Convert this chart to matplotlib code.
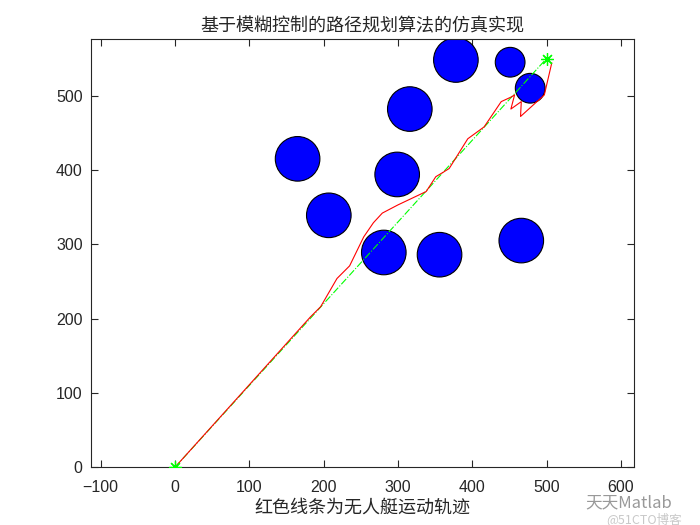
import matplotlib
matplotlib.use("Agg")
import matplotlib.pyplot as plt
from matplotlib.patches import Circle

plt.rcParams['font.family'] = ['Liberation Sans', 'Noto Sans CJK SC', 'DejaVu Sans']

# obstacles (center x, center y, radius)
obs_x = [165, 207, 316, 378, 451, 478, 299, 281, 356, 466]
obs_y = [415, 339, 482, 548, 545, 510, 394, 289, 286, 305]
obs_r = [30, 30, 30, 30, 20, 20, 30, 30, 30, 30]

# start / goal
start = (0, 0)
goal = (500, 550)

# boat trajectory (red)
path_x = [0, 182, 196, 218, 235, 254, 267, 279, 300, 338, 351, 361, 369,
          394, 416, 439, 452, 457, 452, 466, 465, 497, 507]
path_y = [0, 202, 216, 254, 271, 310, 329, 342, 353, 371, 391, 397, 402,
          442, 458, 492, 498, 501, 482, 492, 472, 501, 544]

fig = plt.figure(figsize=(7, 5.25), dpi=100)
ax = fig.add_axes([0.13, 0.11, 0.775, 0.815])

for cx, cy, r in zip(obs_x, obs_y, obs_r):
    ax.add_patch(Circle((cx, cy), r, facecolor='#0000ff', edgecolor='black',
                        linewidth=0.8, zorder=2))

ax.plot([start[0], goal[0]], [start[1], goal[1]], color='#00ff00',
        linestyle='-.', linewidth=0.8, zorder=3)
ax.plot(path_x, path_y, color='#ff0000', linewidth=0.8, zorder=4)
ax.plot([start[0], goal[0]], [start[1], goal[1]], linestyle='none',
        marker=(8, 2, 0), markersize=9, markeredgewidth=0.9,
        color='#00ff00', zorder=5)

xlim = (-113, 617)
ax.set_xlim(xlim)
ax.set_ylim(0, (xlim[1] - xlim[0]) * (0.815 * 525) / (0.775 * 700))
ax.set_xticks(range(-100, 601, 100))
ax.set_yticks(range(0, 501, 100))

dark = '#262626'
for s in ax.spines.values():
    s.set_color(dark)
    s.set_linewidth(0.8)
ax.tick_params(direction='in', top=True, right=True, length=5, width=0.8,
               colors=dark, labelsize=11.5)
ax.tick_params(axis='x', pad=9)
ax.tick_params(axis='y', pad=6)

ax.set_title('基于模糊控制的路径规划算法的仿真实现', family='Noto Sans CJK SC',
             fontsize=13, color=dark, pad=6)
ax.set_xlabel('红色线条为无人艇运动轨迹', family='Noto Sans CJK SC',
              fontsize=13, color=dark, labelpad=3)

# watermark
fig.text(0.836, 0.042, '天天Matlab', family='Noto Sans CJK SC', fontsize=12,
         color='#555555', alpha=0.6, va='center')
fig.text(0.866, 0.012, '@51CTO博客', family='Noto Sans CJK SC', fontsize=9,
         color='#bbbbbb', alpha=0.8, va='center')

fig.savefig('out.png', dpi=100)
